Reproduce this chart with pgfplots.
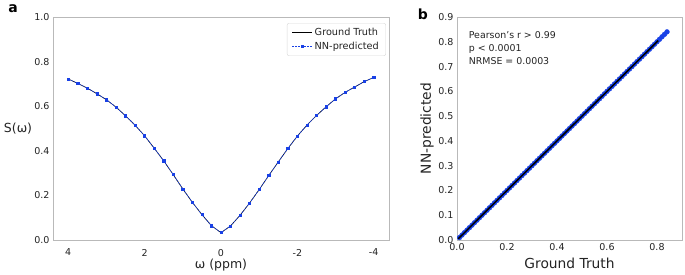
\documentclass[border=0pt]{standalone}
\usepackage{fontspec}
\setmainfont{DejaVu Sans}
\usepackage{pgfplots}
\usepackage{pgfplotstable}
\pgfplotsset{compat=1.18}
\definecolor{nnblue}{RGB}{25,65,230}
\definecolor{spine}{RGB}{185,185,185}
\definecolor{ticktext}{RGB}{35,35,35}

\pgfplotstableread{
w s
4.00 0.722
3.75 0.702
3.50 0.681
3.25 0.656
3.00 0.629
2.75 0.596
2.50 0.557
2.25 0.515
2.00 0.467
1.75 0.412
1.50 0.355
1.25 0.293
1.00 0.229
0.75 0.169
0.50 0.114
0.25 0.064
0.00 0.033
-0.25 0.063
-0.50 0.111
-0.75 0.166
-1.00 0.226
-1.25 0.289
-1.50 0.350
-1.75 0.410
-2.00 0.466
-2.25 0.515
-2.50 0.558
-2.75 0.597
-3.00 0.633
-3.25 0.662
-3.50 0.686
-3.75 0.710
-4.00 0.729
}\specdata

\pgfplotstableread{
gt nn
0.010 0.010
0.020 0.020
0.030 0.030
0.040 0.040
0.050 0.050
0.060 0.060
0.070 0.070
0.080 0.080
0.090 0.090
0.100 0.100
0.110 0.110
0.120 0.120
0.130 0.130
0.140 0.140
0.150 0.150
0.160 0.160
0.170 0.170
0.180 0.180
0.190 0.190
0.200 0.200
0.210 0.210
0.220 0.220
0.230 0.230
0.240 0.240
0.250 0.250
0.260 0.260
0.270 0.270
0.280 0.280
0.290 0.290
0.300 0.300
0.310 0.310
0.320 0.320
0.330 0.330
0.340 0.340
0.350 0.350
0.360 0.360
0.370 0.370
0.380 0.380
0.390 0.390
0.400 0.400
0.410 0.410
0.420 0.420
0.430 0.430
0.440 0.440
0.450 0.450
0.460 0.460
0.470 0.470
0.480 0.480
0.490 0.490
0.500 0.500
0.510 0.510
0.520 0.520
0.530 0.530
0.540 0.540
0.550 0.550
0.560 0.560
0.570 0.570
0.580 0.580
0.590 0.590
0.600 0.600
0.610 0.610
0.620 0.620
0.630 0.630
0.640 0.640
0.650 0.650
0.660 0.660
0.670 0.670
0.680 0.680
0.690 0.690
0.700 0.700
0.710 0.710
0.720 0.720
0.730 0.730
0.740 0.740
0.750 0.750
0.760 0.760
0.770 0.770
0.780 0.780
0.790 0.790
0.800 0.800
0.810 0.810
0.820 0.820
0.830 0.830
0.840 0.840
}\scatterdata

\begin{document}
\begin{tikzpicture}
\useasboundingbox (0,0) rectangle (685pt,-274pt);
\pgfplotsset{every axis/.append style={
  scale only axis,
  axis line style={spine, line width=0.8pt},
  major tick length=0pt,
  tick label style={font=\fontsize{9.5}{11}\selectfont, text=ticktext},
  /pgf/number format/assume math mode=true}}

% ---------- panel a ----------
\begin{axis}[at={(53pt,-240pt)}, anchor=south west,
  width=336pt, height=223pt, clip=false,
  xmin=-4.4, xmax=4.4, x dir=reverse, ymin=0, ymax=1,
  xtick={-4,-2,0,2,4}, xticklabels={-4,-2,0,2,4},
  ytick={0,0.2,0.4,0.6,0.8,1}, yticklabels={0.0,0.2,0.4,0.6,0.8,1.0},
  xticklabel style={yshift=-5.5pt},
  xlabel={ω (ppm)}, ylabel={S(ω)},
  xlabel style={font=\fontsize{12.5}{14}\selectfont, text=ticktext, at={(axis description cs:0.5,-0.112)}, anchor=center},
  ylabel style={font=\fontsize{12.5}{14}\selectfont, text=ticktext, rotate=-90, at={(axis description cs:-0.104,0.5)}, anchor=center},
  legend style={at={(0.991,0.973)}, anchor=north east, draw=black!15, rounded corners=2pt,
    font=\fontsize{9.7}{11}\selectfont, text=ticktext, inner xsep=5pt, inner ysep=3pt, row sep=0.8pt},
  legend image code/.code={\draw[mark repeat=2,mark phase=2,#1] plot coordinates {(0pt,0pt) (10pt,0pt) (20pt,0pt)};},
  legend cell align=left,
]
\addplot[black, line width=0.6pt] table[x=w,y=s]{\specdata};
\addlegendentry{Ground Truth}
\addplot[nnblue, dash pattern=on 2pt off 1pt, line width=0.6pt, mark=square*, mark size=1.1pt, mark options={solid}] table[x=w,y=s]{\specdata};
\addlegendentry{NN-predicted}
\end{axis}

% ---------- panel b ----------
\begin{axis}[at={(457pt,-240pt)}, anchor=south west,
  width=225pt, height=223pt, clip marker paths=true,
  xmin=0, xmax=0.9, ymin=0, ymax=0.9,
  xtick={0,0.2,0.4,0.6,0.8}, xticklabels={0.0,0.2,0.4,0.6,0.8},
  ytick={0,0.1,0.2,0.3,0.4,0.5,0.6,0.7,0.8,0.9},
  yticklabels={0.0,0.1,0.2,0.3,0.4,0.5,0.6,0.7,0.8,0.9},
  xlabel={Ground Truth}, ylabel={NN-predicted},
  xlabel style={font=\fontsize{13.8}{15}\selectfont, text=ticktext, at={(axis description cs:0.5,-0.104)}, anchor=center},
  ylabel style={font=\fontsize{13.8}{15}\selectfont, text=ticktext, at={(axis description cs:-0.133,0.5)}, anchor=center},
]
\addplot[only marks, mark=*, mark size=2.4pt, color=nnblue, mark options={draw=none, fill=nnblue}] table[x=gt,y=nn]{\scatterdata};
\addplot[black, line width=1.5pt] coordinates {(0.005,0.005) (0.805,0.805)};
\node[anchor=north west, align=left, font=\fontsize{9.4}{13}\selectfont, text=ticktext, inner sep=0pt]
  at (rel axis cs:0.052,0.935) {Pearson's r > 0.99\\p < 0.0001\\NRMSE = 0.0003};
\end{axis}

\node[font=\bfseries\fontsize{14}{16}\selectfont] at (13pt,-9pt) {a};
\node[font=\bfseries\fontsize{14}{16}\selectfont] at (423pt,-14pt) {b};
\end{tikzpicture}
\end{document}
